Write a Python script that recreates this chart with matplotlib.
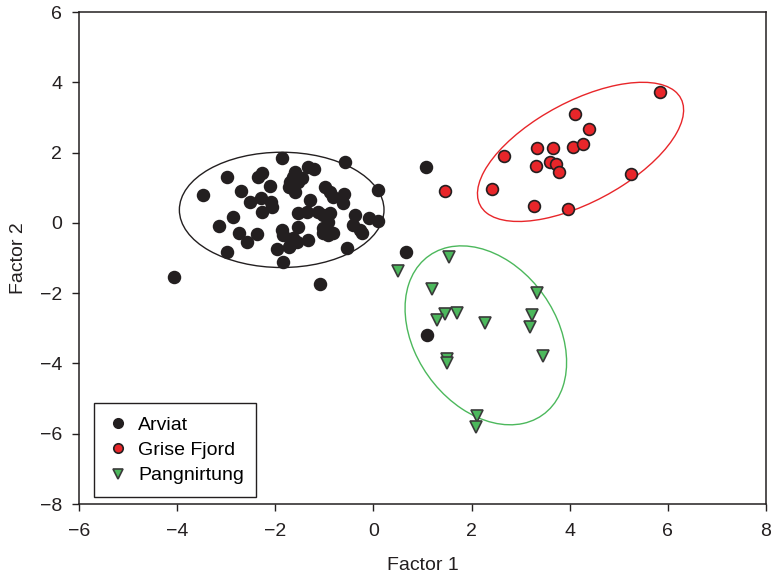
import matplotlib
matplotlib.use('Agg')
import matplotlib.pyplot as plt
from matplotlib.patches import Ellipse
import numpy as np

plt.rcParams['font.family'] = ['Liberation Sans', 'DejaVu Sans']

# factor scores per community
arviat_x = [-1.87, -2.99, -2.35, -2.28, -3.47, -2.70, -2.11, -1.72, -2.51, -2.29,
            -2.09, -2.07, -2.28, -2.87, -3.14, -2.75, -2.58, -2.38, -1.87, -1.97,
            -1.73, -2.99, -1.84, -0.58, -1.33, -1.22, -1.60, -1.63, -1.46, -1.70,
            -1.53, -1.60, -0.99, -0.88, -0.82, -0.61, -0.63, 0.10, -1.29, -1.53,
            -1.36, -1.12, -1.02, -0.88, -0.92, -1.02, -0.37, -0.41, -0.27, -0.24,
            -0.10, 0.10, -1.53, -1.02, -0.92, -0.82, -1.84, -1.63, -1.70, -1.56,
            -1.33, -0.54, -4.06, -1.09, 1.07, 0.66, 1.09]
arviat_y = [1.86, 1.30, 1.31, 1.41, 0.79, 0.91, 1.06, 1.02, 0.59, 0.72,
            0.60, 0.44, 0.32, 0.18, -0.08, -0.30, -0.54, -0.32, -0.20, -0.74,
            -0.70, -0.84, -1.11, 1.72, 1.60, 1.53, 1.46, 1.31, 1.27, 1.17,
            1.17, 0.89, 1.03, 0.89, 0.75, 0.81, 0.56, 0.94, 0.65, 0.27,
            0.32, 0.32, 0.22, 0.27, 0.03, -0.15, 0.22, -0.06, -0.20, -0.30,
            0.13, 0.05, -0.11, -0.30, -0.34, -0.30, -0.34, -0.44, -0.63, -0.54,
            -0.49, -0.71, -1.54, -1.74, 1.59, -0.83, -3.19]

grise_x = [5.83, 4.11, 4.40, 3.33, 3.65, 4.06, 4.28, 2.66, 3.31, 3.60,
           3.72, 3.79, 5.25, 2.41, 1.46, 3.28, 3.96]
grise_y = [3.71, 3.10, 2.68, 2.14, 2.13, 2.16, 2.25, 1.90, 1.62, 1.74,
           1.68, 1.46, 1.39, 0.97, 0.92, 0.48, 0.39]

pang_x = [1.53, 0.50, 1.19, 3.34, 1.46, 1.70, 1.30, 2.27, 3.24, 3.18,
          1.49, 1.49, 3.46, 2.12, 2.09]
pang_y = [-0.96, -1.37, -1.89, -1.99, -2.59, -2.57, -2.76, -2.84, -2.62, -2.95,
          -3.88, -3.98, -3.79, -5.50, -5.82]

# confidence ellipses: centre, width, height, angle
ell_centers = [(-1.87, 0.37), (4.22, 2.02), (2.29, -3.20)]
ell_widths = [4.17, 5.17, 5.24]
ell_heights = [3.28, 2.57, 3.05]
ell_angles = [0, 42.2, 106.9]

labels = ['Arviat', 'Grise Fjord', 'Pangnirtung']
fills = ['#231f20', '#e8262a', '#4cb85c']
edges = ['#231f20', '#231f20', '#3a3a3a']
markers = ['o', 'o', 'v']
xs = [arviat_x, grise_x, pang_x]
ys = [arviat_y, grise_y, pang_y]

fig = plt.figure(figsize=(7.74, 5.78), dpi=100)
ax = fig.add_axes([0.1021, 0.128, 0.8876, 0.8512])

for i in range(3):
    ell = Ellipse(ell_centers[i], ell_widths[i], ell_heights[i], angle=ell_angles[i],
                  fill=False, edgecolor=fills[i], linewidth=1.0, zorder=1)
    ax.add_patch(ell)

for i in range(3):
    ax.plot(xs[i], ys[i], linestyle='none', marker=markers[i], markersize=8.5,
            markerfacecolor=fills[i], markeredgecolor=edges[i], markeredgewidth=1.2,
            label=labels[i], zorder=3)

ax.set_xlim(-6, 8)
ax.set_ylim(-8, 6)
ax.set_xticks(np.arange(-6, 9, 2))
ax.set_yticks(np.arange(-8, 7, 2))
ax.set_xticklabels([str(v).replace('-', '\u2212') for v in range(-6, 9, 2)])
ax.set_yticklabels([str(v).replace('-', '\u2212') for v in range(-8, 7, 2)])
ax.tick_params(direction='out', length=5, width=1, labelsize=14, colors='#231f20',
               top=False, right=False)
ax.tick_params(axis='x', pad=9)
ax.tick_params(axis='y', pad=7)
for s in ax.spines.values():
    s.set_color('#231f20')
    s.set_linewidth(1.1)

ax.set_xlabel('Factor 1', fontsize=14, color='#231f20', labelpad=12)
ax.set_ylabel('Factor 2', fontsize=14, color='#231f20', labelpad=9)

leg = ax.legend(loc='lower left', bbox_to_anchor=(0.022, 0.014), borderaxespad=0,
                fontsize=14, markerscale=0.8, fancybox=False, framealpha=1,
                edgecolor='#231f20', handletextpad=0.4, labelspacing=0.4,
                borderpad=0.65, handlelength=1.2)
leg.get_frame().set_linewidth(1.0)

plt.savefig('out.png', dpi=100)
